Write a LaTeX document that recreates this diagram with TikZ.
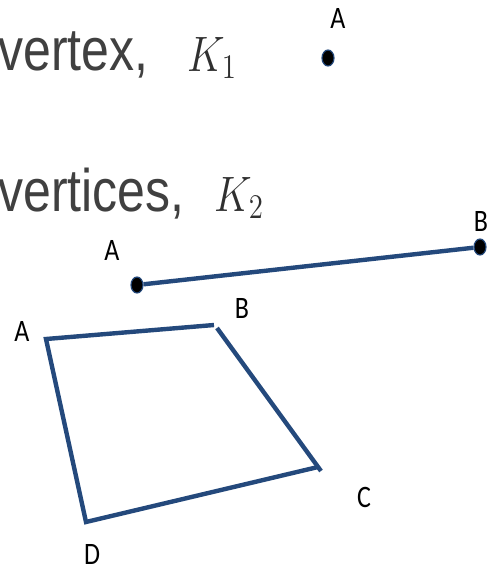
\documentclass[tikz,border=0pt]{standalone}
\usepackage{fontspec}
\setmainfont{Liberation Sans}
\newfontfamily\lblfont{Carlito}
\usetikzlibrary{shapes.geometric}
\definecolor{edgeblue}{HTML}{24497C}
\definecolor{txtgray}{HTML}{404040}
\definecolor{mathgray}{HTML}{303030}
\newcommand{\tallbox}[1]{\scalebox{1}[1.2]{#1}}

\begin{document}
\begin{tikzpicture}[x=0.5pt,y=-0.5pt,
    bigtext/.style={inner sep=0pt,anchor=base west,text=txtgray,font=\fontsize{25}{30}\selectfont},
    kname/.style={inner sep=0pt,anchor=base west,text=mathgray,font=\fontsize{20}{24}\selectfont},
    vlabel/.style={inner sep=0pt,font=\lblfont\fontsize{13}{15}\selectfont},
    vdot/.style={ellipse,draw=edgeblue,fill=black,line width=0.6pt,minimum width=6pt,minimum height=8pt,inner sep=0pt},
    edge/.style={draw=edgeblue,line width=2.2pt}]
  \useasboundingbox (0,0) rectangle (489,569);

  % one vertex
  \node[bigtext] (t1) at (-2,70) {\tallbox{vertex,}};
  \node[kname] (k1) at (187,71) {\tallbox{$K_1$}};
  \node[vdot] (p1) at (328,58) {};
  \node[vlabel] (p1l) at (338,18) {\tallbox{A}};

  % two vertices
  \node[bigtext] (t2) at (-2,211) {\tallbox{vertices,}};
  \node[kname] (k2) at (214,211) {\tallbox{$K_2$}};
  \node[vdot] (sa) at (137,285) {};
  \node[vdot] (sb) at (480,247) {};
  \node[vlabel] (sal) at (112,250) {\tallbox{A}};
  \node[vlabel] (sbl) at (481,221) {\tallbox{B}};
  \draw[edge] (sa) -- (sb);

  % four vertices
  \coordinate (qa) at (46,339);
  \coordinate (qb1) at (214,325);
  \coordinate (qb2) at (217,328);
  \coordinate (qc1) at (321,471);
  \coordinate (qc2) at (318,467);
  \coordinate (qd) at (86,522);
  \draw[edge] (qb1) -- (qa) -- (qd) -- (qc2);
  \draw[edge] (qb2) -- (qc1);
  \node[vlabel] (qal) at (22,331) {\tallbox{A}};
  \node[vlabel] (qbl) at (242,308) {\tallbox{B}};
  \node[vlabel] (qcl) at (364,497) {\tallbox{C}};
  \node[vlabel] (qdl) at (92,554) {\tallbox{D}};
\end{tikzpicture}
\end{document}
